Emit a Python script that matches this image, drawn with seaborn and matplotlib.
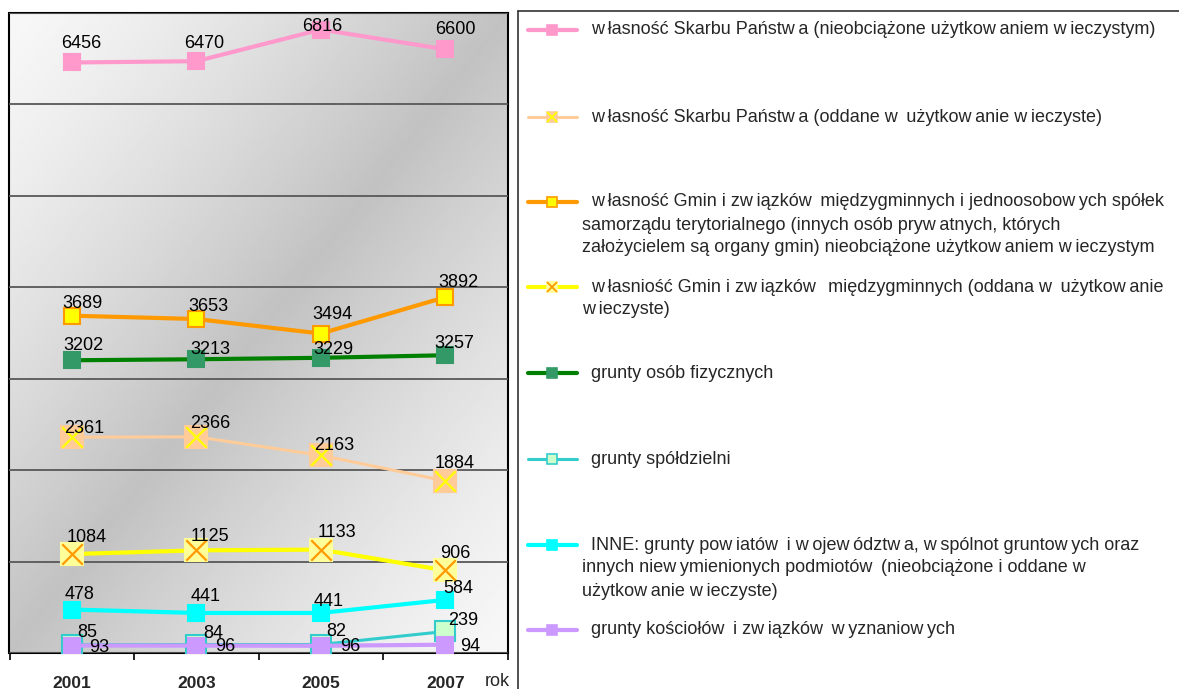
import numpy as np
import pandas as pd
import matplotlib.pyplot as plt
import seaborn as sns

# dane: liczba dzialek wg form wlasnosci
years = [2001, 2003, 2005, 2007]

skarb_nieobc = [6456, 6470, 6816, 6600]
skarb_uzytk = [2361, 2366, 2163, 1884]
gminy_nieobc = [3689, 3653, 3494, 3892]
gminy_uzytk = [1084, 1125, 1133, 906]
osoby_fiz = [3202, 3213, 3229, 3257]
spoldzielnie = [93, 96, 96, 239]
inne = [478, 441, 441, 584]
koscioly = [85, 84, 82, 94]

# "_" oznacza waska przerwe widoczna w oryginale
legend_labels = [
    ["w_łasność Skarbu Państw_a (nieobciążone użytkow_aniem w_ieczystym)"],
    ["w_łasność Skarbu Państw_a (oddane w _użytkow_anie w_ieczyste)"],
    ["w_łasność Gmin i zw_iązków _międzygminnych i jednoosobow_ych spółek",
     "samorządu terytorialnego (innych osób pryw_atnych, których",
     "założycielem są organy gmin) nieobciążone użytkow_aniem w_ieczystym"],
    ["w_łasniość Gmin i zw_iązków __międzygminnych (oddana w _użytkow_anie",
     "w_ieczyste)"],
    ["grunty osób fizycznych"],
    ["grunty spółdzielni"],
    ["INNE: grunty pow_iatów _i w_ojew_ództw_a, w_spólnot gruntow_ych oraz",
     "innych niew_ymienionych podmiotów _(nieobciążone i oddane w",
     "użytkow_anie w_ieczyste)"],
    ["grunty kościołów _i zw_iązków _w_yznaniow_ych"],
]
legend_labels = [[s.replace("_", "\u2009") for s in e] for e in legend_labels]

series_values = [skarb_nieobc, skarb_uzytk, gminy_nieobc, gminy_uzytk,
                 osoby_fiz, spoldzielnie, inne, koscioly]

frames = []
for i, vals in enumerate(series_values):
    frames.append(pd.DataFrame({"rok": years, "liczba": vals, "seria": i}))
df = pd.concat(frames, ignore_index=True)

# style serii: kolor linii, wypelnienie markera, obwodka, grubosc, rozmiar, kolor krzyzyka
styles = [
    dict(color="#FF99CC", face="#FF99CC", edge="#FF99CC", lw=3.0, ms=11.5, cross=None),
    dict(color="#FFCC99", face="#FFCC99", edge="#FFCC99", lw=2.2, ms=15.5, cross="#FFFF00"),
    dict(color="#FF9900", face="#FFFF00", edge="#FF9900", lw=3.0, ms=11.0, cross=None),
    dict(color="#FFFF00", face="#FFFF99", edge="#FFFF99", lw=3.0, ms=15.5, cross="#FF9900"),
    dict(color="#008000", face="#339966", edge="#339966", lw=3.0, ms=11.5, cross=None),
    dict(color="#33CCCC", face="#CCFFCC", edge="#33CCCC", lw=2.2, ms=15.0, cross=None),
    dict(color="#00FFFF", face="#00FFFF", edge="#00FFFF", lw=3.0, ms=11.5, cross=None),
    dict(color="#CC99FF", face="#CC99FF", edge="#CC99FF", lw=3.0, ms=11.5, cross=None),
]

# przesuniecia etykiet (px, os y w dol) wzgledem punktu
label_offsets = [
    [(9, -21), (8, -20), (1, -5), (10, -22)],
    [(12, -11), (14, -15), (13, -12), (9, -19)],
    [(11, -14), (12, -14), (12, -21), (13, -17)],
    [(15, -19), (14, -16), (16, -19), (10, -19)],
    [(12, -17), (14, -12), (13, -10), (9, -14)],
    [(27, 1), (29, 0), (29, 0), (18, -13)],
    [(8, -17), (9, -18), (8, -13), (13, -13)],
    [(15, -15), (17, -14), (15, -16), (25, 0)],
]

sns.set_style("white")
plt.rcParams["font.family"] = ["Liberation Sans", "DejaVu Sans"]

W, H = 1179, 689
fig = plt.figure(figsize=(W / 100, H / 100), dpi=100)
ax = fig.add_axes([9.5 / W, (H - 653.3) / H, (507.7 - 9.5) / W, (653.3 - 12.7) / H])
ax.set_zorder(2)

# gradientowe tlo obszaru wykresu
u = np.linspace(0, 1, 300)
uu, vv = np.meshgrid(u, u)
t = (uu + vv) / 2
grad = 0.97 - (1 - np.abs(2 * t - 1)) ** 1.3 * 0.21
ax.imshow(grad, extent=[2000, 2008, 0, 7000], aspect="auto", cmap="gray",
          vmin=0, vmax=1, zorder=0, interpolation="bilinear", origin="upper")

for i, st in enumerate(styles):
    sub = df[df["seria"] == i]
    sns.lineplot(data=sub, x="rok", y="liczba", ax=ax, color=st["color"],
                 linewidth=st["lw"], marker="s", markersize=st["ms"],
                 markerfacecolor=st["face"], markeredgecolor=st["edge"],
                 markeredgewidth=1.5, zorder=3 + i, legend=False)
    if st["cross"]:
        sns.scatterplot(data=sub, x="rok", y="liczba", ax=ax, marker="x",
                        s=st["ms"] ** 2 * 0.9, color=st["cross"], linewidth=1.6,
                        zorder=3.5 + i, legend=False)
    for j, (x, y) in enumerate(zip(sub["rok"], sub["liczba"])):
        dx, dy = label_offsets[i][j]
        ax.annotate(f"{y}", (x, y), xytext=(dx, -dy - 6.5),
                    textcoords="offset pixels", ha="center", va="baseline",
                    fontsize=13, color="black", zorder=20)

ax.set_xlim(2000, 2008)
ax.set_ylim(0, 7000)
ax.set_yticks(range(0, 7001, 1000))
ax.yaxis.grid(True, color="#585858", linewidth=1.3)
ax.set_axisbelow(False)
ax.tick_params(axis="y", left=False, labelleft=False)
ax.set_xticks(years)
ax.set_xticklabels([str(y) for y in years], fontsize=12.5, fontweight="bold")
ax.set_xticks(range(2000, 2009, 2), minor=True)
ax.tick_params(axis="x", which="major", length=0, pad=16)
ax.tick_params(axis="x", which="minor", length=5, width=1.2, direction="out",
               color="black", bottom=True)
ax.set_xlabel("")
ax.set_ylabel("")
for sp in ax.spines.values():
    sp.set_visible(True)
    sp.set_color("black")
    sp.set_linewidth(1.5)

# warstwa w pikselach: legenda i podpis osi
lax = fig.add_axes([0, 0, 1, 1])
lax.set_xlim(0, W)
lax.set_ylim(H, 0)
lax.axis("off")
lax.set_zorder(1)

lax.text(497, 682, "rok", fontsize=13, ha="center", va="center")

lax.plot([517.7, W], [11, 11], color="#333333", lw=1.2)
lax.plot([517.7, 517.7], [11, H], color="#333333", lw=1.2)

row_y = [30, 117, 202, 287, 373, 459, 545, 630]
for i, st in enumerate(styles):
    y0 = row_y[i]
    lax.plot([528, 577], [y0, y0], color=st["color"], lw=st["lw"])
    lax.plot([552], [y0], marker="s", markersize=7,
             markerfacecolor=st["face"], markeredgecolor=st["edge"],
             markeredgewidth=1.2, color=st["color"])
    if st["cross"]:
        lax.plot([552], [y0], marker="x", markersize=7, color=st["cross"],
                 markeredgewidth=1.3)
    for k, line in enumerate(legend_labels[i]):
        lax.text(591 if k == 0 else 582, y0 + 23 * k, line, fontsize=13,
                 ha="left", va="center")

fig.savefig("out.png", dpi=100)
